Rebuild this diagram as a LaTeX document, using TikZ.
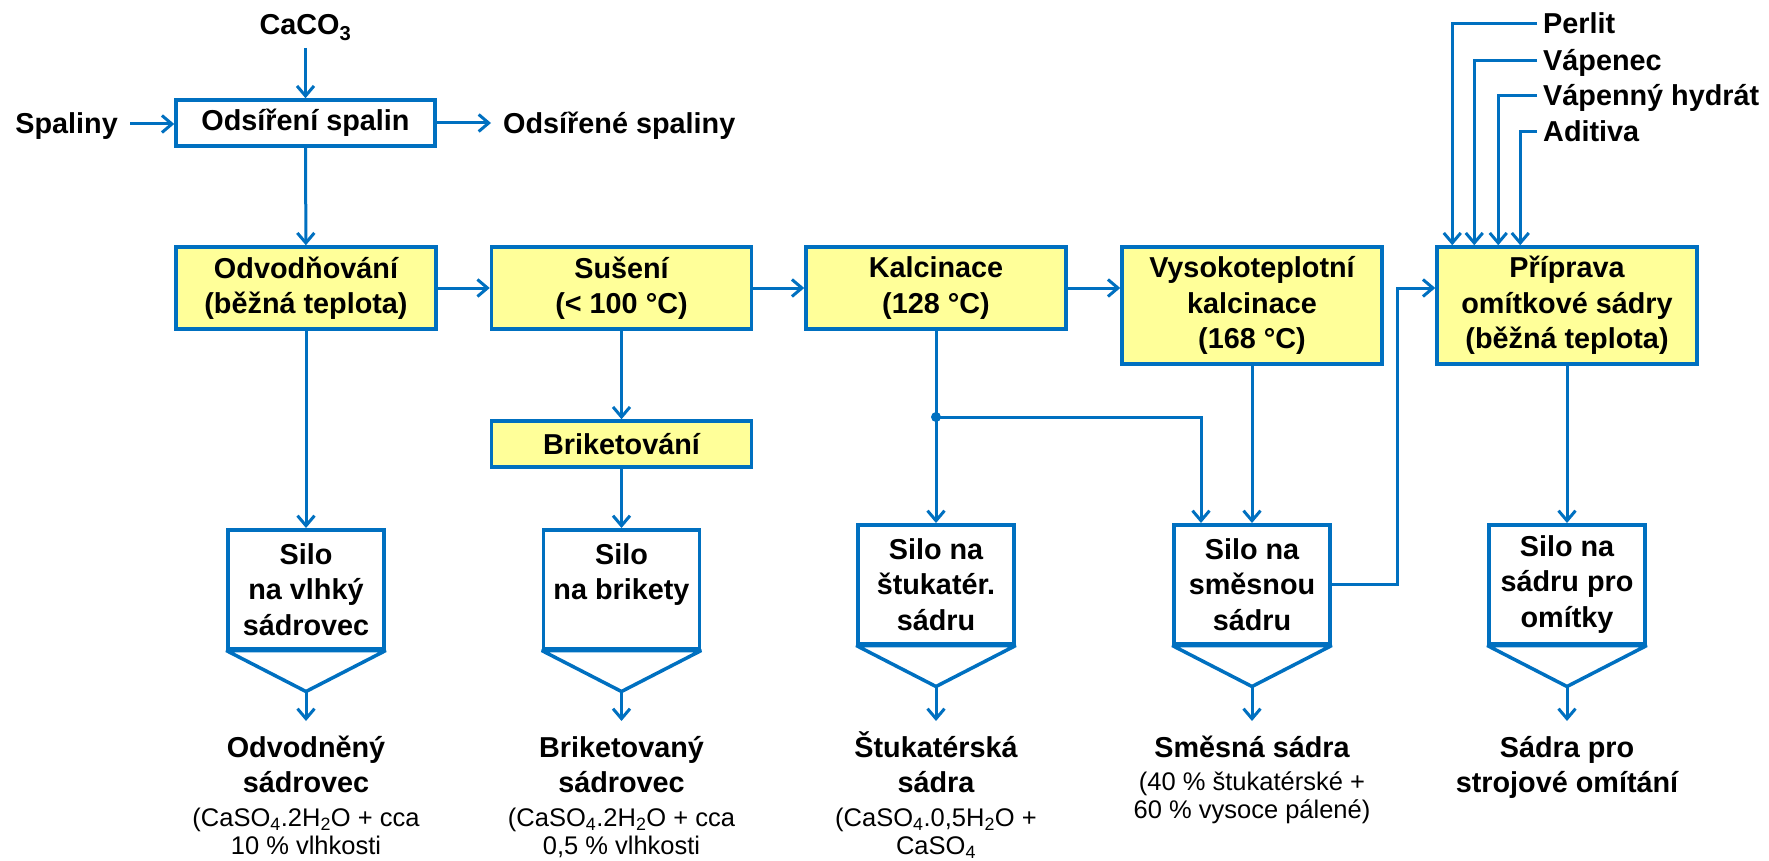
\documentclass[tikz,border=0pt]{standalone}
\usepackage{fontspec}
\setmainfont{Liberation Sans}
\usetikzlibrary{calc,positioning,arrows.meta}
\definecolor{flowblue}{RGB}{0,112,192}
\definecolor{boxyellow}{RGB}{255,255,153}

\begin{document}
\begin{tikzpicture}[x=1pt,y=-1pt,
    bold/.style={font=\fontsize{28.8}{35.5}\selectfont\bfseries},
    thin/.style={font=\fontsize{25.5}{28}\selectfont},
    proc/.style={bold, draw=flowblue, line width=3.5pt, fill=boxyellow, minimum width=260pt, align=center, inner sep=0pt},
    frame/.style={bold, draw=flowblue, line width=3.5pt, minimum width=259pt, minimum height=46pt, inner sep=0pt},
    silo/.style={bold, draw=flowblue, line width=3.5pt, minimum width=156pt, minimum height=119pt, align=center, anchor=north, inner sep=0pt},
    funnel/.style={draw=flowblue, line width=3.5pt, line join=bevel},
    flow/.style={draw=flowblue, line width=3pt, -{Straight Barb[length=10pt,width=17pt]}},
    lbl/.style={bold, text height=21pt, text depth=1pt, inner sep=12pt},
    feed/.style={lbl, inner sep=6pt, anchor=west},
    prod/.style={bold, align=center, anchor=north, inner xsep=0pt, inner ysep=9pt},
    note/.style={thin, align=center, inner sep=0pt}]
    \useasboundingbox (0,0) rectangle (1769,861);

    % odsireni
    \node[frame] (odsir) at (305.5,123) {Odsíření spalin};
    \node[lbl, anchor=south] (caco) at (305.5,48) {CaCO\textsubscript{3}};
    \node[lbl, anchor=east] (spal) at (130,124) {Spaliny};
    \node[lbl, anchor=west] (odsout) at (491,124) {Odsířené spaliny};

    % procesy
    \node[proc, minimum height=82pt] (odvod) at (306,288) {Odvodňování\\(běžná teplota)};
    \node[proc, minimum height=82pt] (suseni) at (621.5,288) {Sušení\\(< 100 °C)};
    \node[proc, minimum height=82pt] (kalc) at (936,288) {Kalcinace\\(128 °C)};
    \node[proc, minimum height=117pt] (vysok) at (1252,305.5) {Vysokoteplotní\\kalcinace\\(168 °C)};
    \node[proc, minimum height=117pt] (prip) at (1567,305.5) {Příprava\\omítkové sádry\\(běžná teplota)};
    \node[proc, minimum height=46pt] (briket) at (621.5,444) {Briketování};

    \node[feed] (perlit) at (1537,24) {Perlit};
    \node[feed] (vapenec) at (1537,61) {Vápenec};
    \node[feed] (hydrat) at (1537,96) {Vápenný hydrát};
    \node[feed] (aditiva) at (1537,132) {Aditiva};

    % sila
    \node[silo] (s1) at (306,528) {Silo\\na vlhký\\sádrovec};
    \node[silo] (s2) at (621.5,528) {Silo\\na brikety\\\mbox{}};
    \node[silo] (s3) at (936,523) {Silo na\\štukatér.\\sádru};
    \node[silo] (s4) at (1252,523) {Silo na\\směsnou\\sádru};
    \node[silo] (s5) at (1567,523) {Silo na\\sádru pro\\omítky};

    \coordinate (f1) at ($(s1.south)+(0,41)$);
    \coordinate (f2) at ($(s2.south)+(0,41)$);
    \coordinate (f3) at ($(s3.south)+(0,41)$);
    \coordinate (f4) at ($(s4.south)+(0,41)$);
    \coordinate (f5) at ($(s5.south)+(0,41)$);
    \draw[funnel] (s1.south west) -- (f1) -- (s1.south east) -- cycle;
    \draw[funnel] (s2.south west) -- (f2) -- (s2.south east) -- cycle;
    \draw[funnel] (s3.south west) -- (f3) -- (s3.south east) -- cycle;
    \draw[funnel] (s4.south west) -- (f4) -- (s4.south east) -- cycle;
    \draw[funnel] (s5.south west) -- (f5) -- (s5.south east) -- cycle;

    % produkty
    \node[prod] (o1) at (306,721) {\rule{0pt}{27pt}Odvodněný\\sádrovec};
    \node[note, below=0pt of o1] (n1) {\rule{0pt}{24pt}(CaSO\textsubscript{4}.2H\textsubscript{2}O + cca\\10 \% vlhkosti};
    \node[prod] (o2) at (621.5,721) {\rule{0pt}{27pt}Briketovaný\\sádrovec};
    \node[note, below=0pt of o2] (n2) {\rule{0pt}{24pt}(CaSO\textsubscript{4}.2H\textsubscript{2}O + cca\\0,5 \% vlhkosti};
    \node[prod] (o3) at (936,721) {\rule{0pt}{27pt}Štukatérská\\sádra};
    \node[note, below=0pt of o3] (n3) {\rule{0pt}{24pt}(CaSO\textsubscript{4}.0,5H\textsubscript{2}O +\\CaSO\textsubscript{4}};
    \node[prod] (o4) at (1252,721) {\rule{0pt}{27pt}Směsná sádra};
    \node[note, below=0pt of o4] (n4) {\rule{0pt}{24pt}(40 \% štukatérské +\\60 \% vysoce pálené)};
    \node[prod] (o5) at (1567,721) {\rule{0pt}{27pt}Sádra pro\\strojové omítání};

    % toky
    \draw[flow] (caco) -- (odsir);
    \draw[flow] (spal.east) -- (spal.east -| odsir.west);
    \draw[flow] (odsir.east) -- (odsir.east -| odsout.west);
    \draw[flow] (odsir) -- (odvod);
    \draw[flow] (odvod) -- (suseni);
    \draw[flow] (suseni) -- (kalc);
    \draw[flow] (kalc.east) -- (kalc.east -| vysok.west);
    \draw[flow] (suseni) -- (briket);
    \draw[flow] (briket) -- (s2);
    \draw[flow] (odvod) -- (s1);
    \draw[flow] (kalc) -- (s3);
    \coordinate (split) at (936,417);
    \fill[flowblue] (split) circle (5pt);
    \draw[flow] (split) -| ([xshift=-51pt]s4.north);
    \draw[flow] (vysok) -- (s4);
    \draw[flow] (s4.east) -- ++(66,0) |- ([yshift=17.5pt]prip.west);
    \draw[flow] (prip) -- (s5);
    \draw[flow] (perlit.west) -| ([xshift=17pt]prip.north west);
    \draw[flow] (vapenec.west) -| ([xshift=39pt]prip.north west);
    \draw[flow] (hydrat.west) -| ([xshift=63pt]prip.north west);
    \draw[flow] (aditiva.west) -| ([xshift=85pt]prip.north west);

    \draw[flow] (f1) -- (o1);
    \draw[flow] (f2) -- (o2);
    \draw[flow] (f3) -- (o3);
    \draw[flow] (f4) -- (o4);
    \draw[flow] (f5) -- (o5);
\end{tikzpicture}
\end{document}
